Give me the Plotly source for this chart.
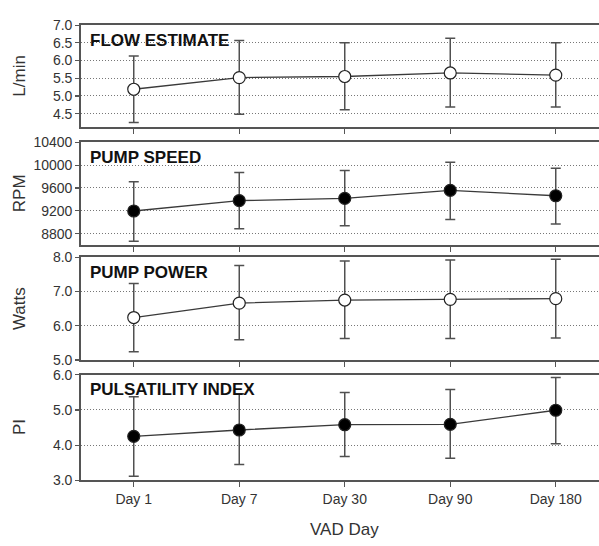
import plotly.graph_objects as go
from plotly.subplots import make_subplots

days = ["Day 1", "Day 7", "Day 30", "Day 90", "Day 180"]

flow_mean = [5.19, 5.52, 5.55, 5.65, 5.59]
flow_upper = [6.13, 6.57, 6.50, 6.63, 6.50]
flow_lower = [4.25, 4.48, 4.61, 4.69, 4.69]

speed_mean = [9197, 9379, 9418, 9559, 9464]
speed_upper = [9707, 9872, 9906, 10048, 9946]
speed_lower = [8669, 8885, 8941, 9049, 8970]

power_mean = [6.24, 6.66, 6.75, 6.77, 6.79]
power_upper = [7.23, 7.76, 7.89, 7.92, 7.94]
power_lower = [5.24, 5.59, 5.63, 5.63, 5.64]

pi_mean = [4.25, 4.43, 4.58, 4.59, 4.99]
pi_upper = [5.37, 5.46, 5.49, 5.58, 5.92]
pi_lower = [3.12, 3.45, 3.68, 3.63, 4.04]

panel_titles = ["FLOW ESTIMATE", "PUMP SPEED", "PUMP POWER", "PULSATILITY INDEX"]
y_titles = ["L/min", "RPM", "Watts", "PI"]
y_ticks = [
    [4.5, 5.0, 5.5, 6.0, 6.5, 7.0],
    [8800, 9200, 9600, 10000, 10400],
    [5.0, 6.0, 7.0, 8.0],
    [3.0, 4.0, 5.0, 6.0],
]
y_ranges = [[4.12, 7.0], [8600, 10400], [5.0, 8.0], [3.0, 6.0]]
y_formats = [".1f", "d", ".1f", ".1f"]

series = [
    (flow_mean, flow_upper, flow_lower, "white"),
    (speed_mean, speed_upper, speed_lower, "black"),
    (power_mean, power_upper, power_lower, "white"),
    (pi_mean, pi_upper, pi_lower, "black"),
]

H = 546
W = 599
ML = 81
PW = W - ML
domains = [
    (1 - 122.7 / H, 1 - 17.7 / H),
    (1 - 244.3 / H, 1 - 138.3 / H),
    (1 - 362.7 / H, 1 - 256.7 / H),
    (1 - 486.7 / H, 1 - 377.7 / H),
]

fig = make_subplots(rows=4, cols=1, shared_xaxes=False)
FRAME = "#555555"
TXT = "#333333"
FONT = "Liberation Sans, Arial, sans-serif"

for i, (m, up, lo, fill) in enumerate(series):
    r = i + 1
    plus = [u - v for u, v in zip(up, m)]
    minus = [v - l for v, l in zip(m, lo)]
    fig.add_trace(
        go.Scatter(
            x=list(range(len(days))),
            y=m,
            mode="lines+markers",
            line=dict(color="#3a3a3a", width=1.3),
            marker=dict(size=12, color=fill, line=dict(color="#222222", width=1.2)),
            error_y=dict(type="data", symmetric=False, array=plus, arrayminus=minus,
                         color="#505050", thickness=1.5, width=5),
            showlegend=False,
            cliponaxis=False,
            hoverinfo="skip",
        ),
        row=r, col=1,
    )
    fig.update_yaxes(
        row=r, col=1,
        domain=list(domains[i]),
        range=y_ranges[i],
        tickvals=y_ticks[i],
        tickformat=y_formats[i],
        showline=True, linecolor=FRAME, linewidth=1.8,
        ticks="outside", ticklen=4, tickcolor=FRAME, tickwidth=1.2,
        showgrid=True, gridcolor="#777777", griddash="1px,2px", gridwidth=1,
        zeroline=False,
        tickfont=dict(family=FONT, size=14, color=TXT),
    )
    fig.update_xaxes(
        row=r, col=1,
        range=[-0.5, 4.41],
        tickvals=list(range(len(days))),
        ticktext=days,
        showticklabels=(r == 4),
        showline=True, mirror=True, linecolor=FRAME, linewidth=1.8,
        ticks="outside", ticklen=5, tickcolor=FRAME, tickwidth=1.2,
        showgrid=False, zeroline=False,
        tickfont=dict(family=FONT, size=14, color=TXT),
        domain=[0, 1],
    )
    yref = "y domain" if r == 1 else f"y{r} domain"
    xref = "x domain" if r == 1 else f"x{r} domain"
    fig.add_annotation(
        text=f"<b>{panel_titles[i]}</b>", xref=xref, yref=yref,
        x=0.013, y=1, xanchor="left", yanchor="middle", yshift=-15,
        showarrow=False, font=dict(family=FONT, size=17, color="#111111"),
    )
    fig.add_annotation(
        text=y_titles[i], xref="paper", yref=yref,
        x=(19.5 - ML) / PW, y=0.5, xanchor="center", yanchor="middle", textangle=-90,
        showarrow=False, font=dict(family=FONT, size=17, color=TXT),
    )

fig.add_annotation(
    text="VAD Day", xref="paper", yref="paper",
    x=(344 - ML) / PW, y=1 - 537 / H, xanchor="center", yanchor="middle",
    showarrow=False, font=dict(family=FONT, size=17, color=TXT),
)

fig.update_layout(
    width=W, height=H,
    margin=dict(l=ML, r=0, t=0, b=0),
    plot_bgcolor="white", paper_bgcolor="white",
    font=dict(family=FONT, color=TXT),
    hovermode=False,
)

fig.write_html(
    "out.html",
    config={"displayModeBar": False, "staticPlot": True},
    post_script="document.body.style.margin='0';document.body.style.overflow='hidden';",
)
